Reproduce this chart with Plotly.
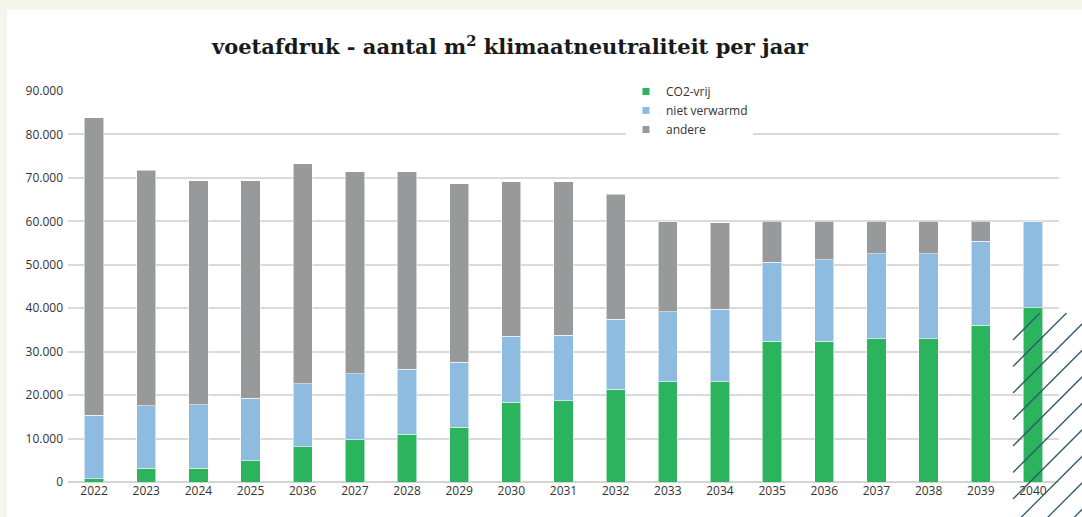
import plotly.graph_objects as go

years = ["2022", "2023", "2024", "2025", "2036", "2027", "2028", "2029", "2030", "2031",
         "2032", "2033", "2034", "2035", "2036", "2037", "2038", "2039", "2040"]
co2_vrij = [700, 3200, 3200, 4900, 8100, 9700, 11000, 12600, 18400, 18700,
            21400, 23100, 23100, 32400, 32400, 33000, 33000, 36100, 40100]
niet_verwarmd = [14700, 14400, 14600, 14400, 14500, 15200, 15000, 15000, 15100, 15100,
                 16100, 16100, 16700, 18200, 18800, 19500, 19500, 19300, 19900]
totaal = [83800, 71800, 69400, 69400, 73200, 71400, 71400, 68700, 69100, 69100,
          66200, 59900, 59700, 60000, 60000, 60000, 60000, 60000, 60000]
andere = [t - a - b for t, a, b in zip(totaal, co2_vrij, niet_verwarmd)]

series = [("CO2-vrij", co2_vrij, "#2bb35e"),
          ("niet verwarmd", niet_verwarmd, "#8ebbe0"),
          ("andere", andere, "#97999a")]

W, H = 1082, 517
L, R, T, B = 68, 23, 91, 35
PW, PH = W - L - R, H - T - B

def px2paper(x, y):
    return (x - L) / PW, (H - B - y) / PH

xpos = list(range(len(years)))
fig = go.Figure()
for name, vals, col in series:
    fig.add_trace(go.Bar(x=xpos, y=vals, name=name, marker_color=col,
                         marker_line=dict(width=1, color="rgba(255,255,255,0.55)"),
                         showlegend=False, hoverinfo="y"))
for name, vals, col in series:
    fig.add_trace(go.Scatter(x=[None], y=[None], mode="markers", name=name,
                             marker=dict(symbol="square", size=7, color=col)))

shapes = []
band = "#f3f6e8"
shapes.append(dict(type="rect", xref="paper", yref="paper", layer="below",
                   x0=px2paper(0, 0)[0], x1=px2paper(W, 0)[0],
                   y0=px2paper(0, 10)[1], y1=px2paper(0, 0)[1],
                   fillcolor=band, line_width=0))
shapes.append(dict(type="rect", xref="paper", yref="paper", layer="below",
                   x0=px2paper(0, 0)[0], x1=px2paper(7, 0)[0],
                   y0=px2paper(0, H)[1], y1=px2paper(0, 0)[1],
                   fillcolor=band, line_width=0))

# decorative hatching bottom right
cx0, cx1, cy0, cy1 = 1013.0, 1090.0, 313.0, 520.0
for k in range(0, 11):
    c = 340 + 26.5 * k  # y at x = cx0 ; line: y = c - (x - cx0)
    pts = []
    y = c
    if cy0 <= y <= cy1:
        pts.append((cx0, y))
    x = cx0 + c - cy1
    if cx0 < x <= cx1:
        pts.append((x, cy1))
    x = cx0 + c - cy0
    if cx0 <= x <= cx1:
        pts.append((x, cy0))
    y = c - (cx1 - cx0)
    if cy0 < y < cy1:
        pts.append((cx1, y))
    if len(pts) >= 2:
        (xa, ya), (xb, yb) = pts[0], pts[1]
        p0, p1 = px2paper(xa, ya), px2paper(xb, yb)
        shapes.append(dict(type="line", xref="paper", yref="paper", layer="above",
                           x0=p0[0], y0=p0[1], x1=p1[0], y1=p1[1],
                           line=dict(color="#2f5b6e", width=1.3)))

fig.update_layout(
    width=W, height=H,
    margin=dict(l=L, r=R, t=T, b=B),
    paper_bgcolor="white", plot_bgcolor="white",
    barmode="stack", bargap=0.63,
    separators=",.",
    title=dict(text="voetafdruk - aantal m<sup>2</sup> klimaatneutraliteit per jaar",
               x=(510 - L) / PW, xref="paper", xanchor="center",
               y=1 - 47 / H, yanchor="middle",
               font=dict(family="DejaVu Serif", size=21, color="#1a1a1a", weight="bold")),
    font=dict(family="Open Sans", size=12, color="#333333"),
    xaxis=dict(tickvals=xpos, ticktext=years, range=[-0.5, len(years) - 0.5],
               showgrid=False, showline=False, ticks="", zeroline=False,
               tickfont=dict(size=12, color="#333333")),
    yaxis=dict(range=[0, 90000], dtick=10000, tickformat=",.0f",
               showgrid=True, gridcolor="#dadada", gridwidth=1.5,
               zeroline=True, zerolinecolor="#d4d4d4", zerolinewidth=1.5,
               ticks="", ticklabelstandoff=4,
               tickfont=dict(size=12, color="#333333")),
    legend=dict(x=(626 - L) / PW, xanchor="left", y=1 + 14 / PH, yanchor="top",
                bgcolor="white", font=dict(size=12, color="#333333"),
                traceorder="normal", tracegroupgap=0),
    shapes=shapes,
    showlegend=True,
)

fig.write_html("out.html", config={"displayModeBar": False},
               post_script="document.body.style.margin='0';document.body.style.overflow='hidden';")
